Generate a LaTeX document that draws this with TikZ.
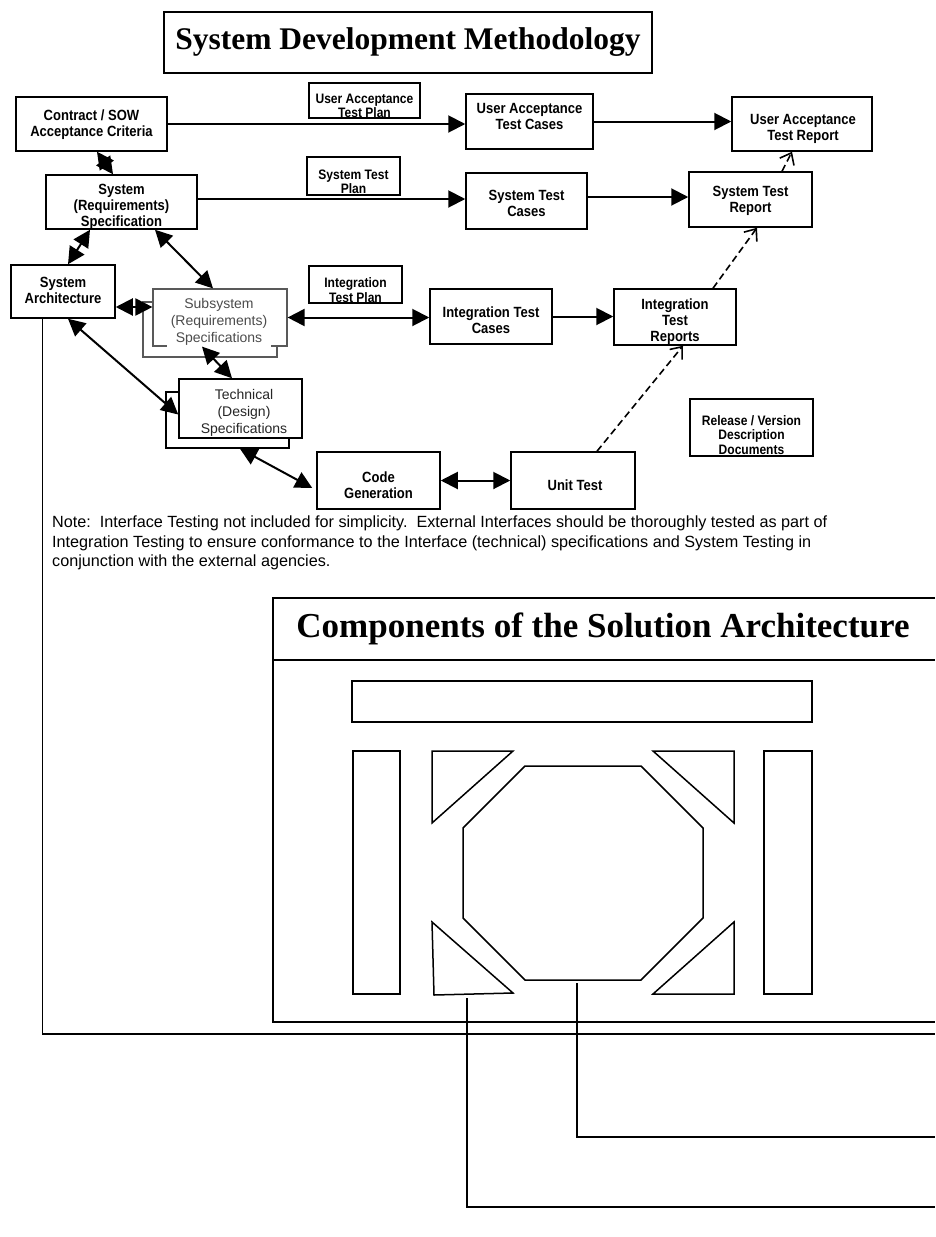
\documentclass[tikz,border=0pt]{standalone}
\usepackage{fontspec}
\setmainfont{Liberation Serif}
\newfontfamily\narrowsans{Liberation Sans}[FakeStretch=0.88]
\newfontfamily\plainsans{Liberation Sans}
\usetikzlibrary{arrows.meta}
\begin{document}
\begin{tikzpicture}[x=1pt,y=-1pt,
 box/.style={draw,line width=1.5pt,fill=white,inner sep=0pt},
 lbl/.style={font=\narrowsans\bfseries\fontsize{14.8}{16}\selectfont,align=center,inner sep=0pt},
 plan/.style={font=\narrowsans\bfseries\fontsize{13.7}{14.5}\selectfont,align=center,inner sep=0pt},
 doctxt/.style={font=\plainsans\fontsize{14}{16.8}\selectfont,align=center,inner sep=0pt},
 link/.style={line width=2pt,{Triangle[length=17pt,width=17pt]}-{Triangle[length=17pt,width=17pt]}},
 flow/.style={line width=2pt,-{Triangle[length=17pt,width=17pt]}},
 trace/.style={line width=1.6pt,dash pattern=on 7pt off 4pt,-{Straight Barb[length=10pt,width=16pt]}},
 wire/.style={line width=1.5pt}]
 \useasboundingbox (0,0) rectangle (935,1237);
 \node[draw,line width=1.5pt,minimum width=488pt,minimum height=61pt,font=\bfseries\fontsize{31.5}{36}\selectfont] (title) at (408,42.5) {System Development Methodology};
 \node[box,minimum width=151pt,minimum height=54pt] (contract) at (91.5,124) {};
 \node[lbl] (contract-t) at (91.5,125) {Contract / SOW\\Acceptance Criteria};
 \node[box,minimum width=111pt,minimum height=35pt] (utplan) at (364.5,100.5) {};
 \node[plan] (utplan-t) at (364.5,106) {User Acceptance\\Test Plan};
 \node[box,minimum width=127pt,minimum height=55pt] (utcases) at (529.5,121.5) {};
 \node[lbl] (utcases-t) at (529.5,116.5) {User Acceptance\\Test Cases};
 \node[box,minimum width=140pt,minimum height=54pt] (utreport) at (802,124) {};
 \node[lbl] (utreport-t) at (803,129) {User Acceptance\\Test Report};
 \node[box,minimum width=151pt,minimum height=54pt] (sysspec) at (121.5,202) {};
 \node[lbl] (sysspec-t) at (121.5,207) {System\\(Requirements)\\Specification};
 \node[box,minimum width=93pt,minimum height=38pt] (stplan) at (353.5,176) {};
 \node[plan] (stplan-t) at (353.5,182) {System Test\\Plan};
 \node[box,minimum width=121pt,minimum height=56pt] (stcases) at (526.5,201) {};
 \node[lbl] (stcases-t) at (526.5,203.5) {System Test\\Cases};
 \node[box,minimum width=123pt,minimum height=55pt] (streport) at (750.5,199.5) {};
 \node[lbl] (streport-t) at (750.5,201) {System Test\\Report};
 \node[box,minimum width=104pt,minimum height=53pt] (sysarch) at (63,291.5) {};
 \node[lbl] (sysarch-t) at (63,290) {System\\Architecture};
 \node[box,draw=black!65,line width=1.2pt,minimum width=134pt,minimum height=55pt] (subsys-b) at (210,329.5) {};
 \node[box,draw=black!65,line width=1.2pt,minimum width=134pt,minimum height=57pt] (subsys) at (220,317.5) {};
 \node[doctxt,text=black!70,fill=white,inner xsep=4pt,inner ysep=1.5pt] (subsys-t) at (219,322) {Subsystem\\(Requirements)\\Specifications};
 \node[box,minimum width=93pt,minimum height=37pt] (itplan) at (355.5,284.5) {};
 \node[plan] (itplan-t) at (355.5,290) {Integration\\Test Plan};
 \node[box,minimum width=122pt,minimum height=55pt] (itcases) at (491,316.5) {};
 \node[lbl] (itcases-t) at (491,320.5) {Integration Test\\Cases};
 \node[box,minimum width=122pt,minimum height=56pt] (itreports) at (675,317) {};
 \node[lbl] (itreports-t) at (675,322) {Integration\\Test\\Reports};
 \node[box,minimum width=123pt,minimum height=56pt] (tech-b) at (227.5,420) {};
 \node[box,minimum width=123pt,minimum height=59pt] (tech) at (240.5,408.5) {};
 \node[doctxt,text=black!85] (tech-t) at (244,413) {Technical\\(Design)\\Specifications};
 \node[box,minimum width=123pt,minimum height=57pt] (codegen) at (378.5,480.5) {};
 \node[lbl] (codegen-t) at (378.5,485) {Code\\Generation};
 \node[box,minimum width=124pt,minimum height=57pt] (unittest) at (573,480.5) {};
 \node[lbl] (unittest-t) at (575,485) {Unit Test};
 \node[box,minimum width=123pt,minimum height=57pt] (release) at (751.5,427.5) {};
 \node[plan] (release-t) at (751.5,435) {Release / Version\\Description\\Documents};
 \draw[flow] (contract.east) -- (contract.east -| utcases.west);
 \draw[flow] (utcases.east) -- (utcases.east -| utreport.west);
 \draw[flow] ([yshift=3pt]sysspec.east) -- ([yshift=3pt]sysspec.east -| stcases.west);
 \draw[flow] ([yshift=4pt]stcases.east) -- ([yshift=4pt]stcases.east -| streport.west);
 \draw[flow] (itcases.east) -- (itcases.east -| itreports.west);
 \draw[link] ([xshift=5.5pt]contract.south) -- ([xshift=-8.5pt]sysspec.north);
 \draw[link] ([xshift=-31.5pt]sysspec.south) -- ([xshift=5pt]sysarch.north);
 \draw[link] ([xshift=33.5pt]sysspec.south) -- ([xshift=-7pt]subsys.north);
 \draw[link] ([yshift=-15.5pt]sysarch.east) -- ([yshift=-15.5pt]sysarch.east -| subsys.west);
 \draw[link] (subsys.east) -- (subsys.east -| itcases.west);
 \draw[link] ([xshift=5pt]sysarch.south) -- ([yshift=-6pt]tech.west);
 \draw[link] ([xshift=-18pt]subsys.south) -- ([xshift=-8.5pt]tech.north);
 \draw[link] ([xshift=12.5pt]tech-b.south) -- ([xshift=-4pt,yshift=-7.5pt]codegen.west);
 \draw[link] (codegen.east) -- (unittest.west);
 \draw[trace] ([xshift=24pt]unittest.north) -- ([xshift=8pt]itreports.south);
 \draw[trace] ([xshift=38pt]itreports.north) -- ([xshift=6.5pt]streport.south);
 \draw[trace] ([xshift=31.5pt]streport.north) -- ([xshift=-10pt]utreport.south);
 \node[anchor=north west,align=left,inner sep=0pt,font=\plainsans\fontsize{16.2}{19.5}\selectfont] (note) at (52,516) {Note:\ \ Interface Testing not included for simplicity.\ \ External Interfaces should be thoroughly tested as part of\\Integration Testing to ensure conformance to the Interface (technical) specifications and System Testing in\\conjunction with the external agencies.};
 \draw[wire] (935,598) -| (273,1022) -- (935,1022);
 \draw[wire] (273,660) -- (935,660);
 \node[font=\bfseries\fontsize{35}{40}\selectfont] (comptitle) at (603,629) {Components of the Solution Architecture};
 \draw[wire] (352,681) rectangle (812,722);
 \draw[wire] (353,751) rectangle (400,994);
 \draw[wire] (764,751) rectangle (812,994);
 \draw[wire] (525,766) -- (641,766) -- (703,828) -- (703,918) -- (641,980) -- (525,980) -- (463,918) -- (463,828) -- cycle;
 \draw[wire] (432,751) -- (513,751) -- (432,823) -- cycle;
 \draw[wire] (653,751) -- (734,751) -- (734,823) -- cycle;
 \draw[wire] (432,922) -- (513,993) -- (434,995) -- cycle;
 \draw[wire] (734,922) -- (734,994) -- (653,994) -- cycle;
 \coordinate (edge-a) at (935,1034);
 \coordinate (edge-b) at (935,1137);
 \coordinate (edge-c) at (935,1207);
 \coordinate (octa-b) at (577,983);
 \coordinate (tri-b) at (467,998);
 \draw[wire] ([xshift=32pt]sysarch.south west) |- (edge-a);
 \draw[wire] (octa-b) |- (edge-b);
 \draw[wire] (tri-b) |- (edge-c);
\end{tikzpicture}
\end{document}
